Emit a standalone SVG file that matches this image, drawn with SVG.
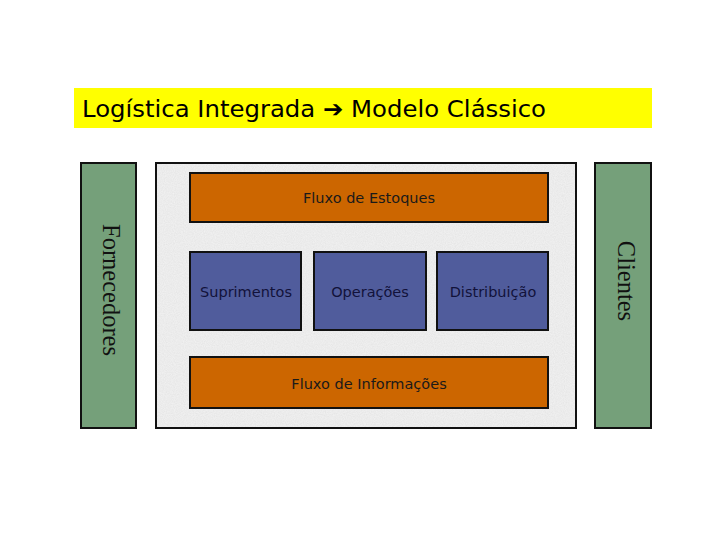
<svg xmlns="http://www.w3.org/2000/svg" width="720" height="540" viewBox="0 0 720 540">
<style>
.box{stroke:#111;stroke-width:2}
.orange{fill:#cc6600}
.blue{fill:#505c9c}
.green{fill:#75a07a}
.t{font-family:"DejaVu Sans",Tahoma,sans-serif;font-size:14.5px;text-anchor:middle;fill:#1a1a1a}
.tb{fill:#12123a}
.v{font-family:"Liberation Serif","Times New Roman",serif;font-size:24.5px;text-anchor:middle;fill:#111}
</style>
<defs>
<filter id="grain" x="0" y="0" width="100%" height="100%">
<feTurbulence type="fractalNoise" baseFrequency="0.9" numOctaves="2" seed="3" result="n"/>
<feColorMatrix in="n" type="matrix" values="0 0 0 0 0.6  0 0 0 0 0.6  0 0 0 0 0.6  0 0 0 0.35 0" result="g"/>
<feComposite in="g" in2="SourceGraphic" operator="in" result="gi"/>
<feBlend in="SourceGraphic" in2="gi" mode="multiply"/>
</filter>
</defs>
<rect width="720" height="540" fill="#fff"/>
<g id="title">
<rect x="74" y="88" width="578" height="40" fill="#ffff00"/>
<text x="82" y="117" font-family="'DejaVu Sans',Tahoma,sans-serif" font-size="23" fill="#000" textLength="464" lengthAdjust="spacingAndGlyphs">Logística Integrada ➔ Modelo Clássico</text>
</g>
<g id="fornecedores">
<rect class="box green" x="81" y="163" width="55" height="265"/>
<text class="v" transform="translate(103,290) rotate(90)">Fornecedores</text>
</g>
<g id="empresa">
<rect class="box" x="156" y="163" width="420" height="265" fill="#f3f3f3" filter="url(#grain)"/>
<rect x="156" y="163" width="420" height="265" fill="none" stroke="#111" stroke-width="2"/>
</g>
<g id="clientes">
<rect class="box green" x="595" y="163" width="56" height="265"/>
<text class="v" transform="translate(618,281) rotate(90)">Clientes</text>
</g>
<g id="fluxo-estoques">
<rect class="box orange" x="190" y="173" width="358" height="49"/>
<text class="t" x="369" y="203">Fluxo de Estoques</text>
</g>
<g id="suprimentos">
<rect class="box blue" x="190" y="252" width="111" height="78"/>
<text class="t tb" x="246" y="297">Suprimentos</text>
</g>
<g id="operacoes">
<rect class="box blue" x="314" y="252" width="112" height="78"/>
<text class="t tb" x="370" y="297">Operações</text>
</g>
<g id="distribuicao">
<rect class="box blue" x="437" y="252" width="111" height="78"/>
<text class="t tb" x="493" y="297">Distribuição</text>
</g>
<g id="fluxo-informacoes">
<rect class="box orange" x="190" y="357" width="358" height="51"/>
<text class="t" x="369" y="389">Fluxo de Informações</text>
</g>
<g id="connectors"/>
</svg>
